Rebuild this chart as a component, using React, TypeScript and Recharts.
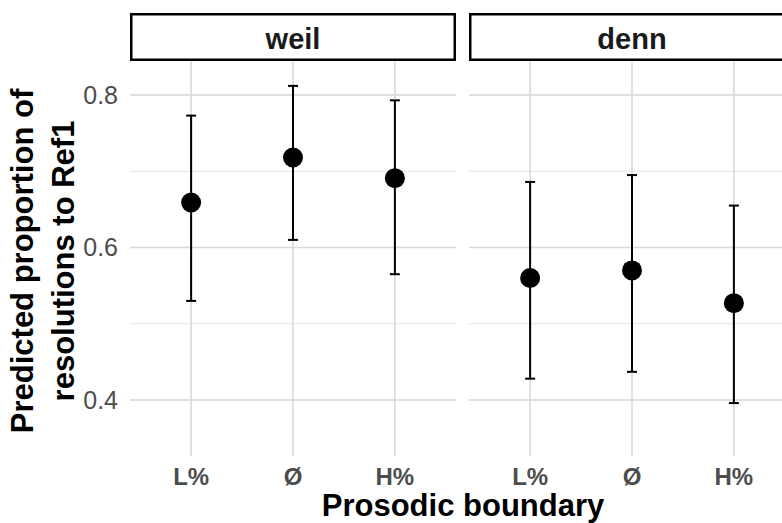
import React from 'react';
import { ScatterChart, Scatter, ErrorBar, XAxis, YAxis, CartesianGrid } from 'recharts';

const boundaries = ['L%', 'Ø', 'H%'];
const panels = ['weil', 'denn'];

const weilFit = [0.659, 0.718, 0.691];
const weilLower = [0.53, 0.61, 0.565];
const weilUpper = [0.773, 0.812, 0.793];

const dennFit = [0.56, 0.57, 0.527];
const dennLower = [0.428, 0.437, 0.396];
const dennUpper = [0.686, 0.695, 0.655];

const yTicks = [0.4, 0.5, 0.6, 0.7, 0.8];
const yMajor = [0.4, 0.6, 0.8];
const yDomain: [number, number] = [0.3266, 0.8446];
const xTicks = [1, 2, 3];

const FONT = '"Liberation Sans", Arial, Helvetica, sans-serif';

function buildRows(fit: number[], lower: number[], upper: number[]) {
  return fit.map((v, i) => ({
    x: i + 1,
    y: v,
    err: [v - lower[i], upper[i] - v],
  }));
}

const weilRows = buildRows(weilFit, weilLower, weilUpper);
const dennRows = buildRows(dennFit, dennLower, dennUpper);

// major horizontal grid lines, mapped through the y scale
const majorLines = ({ yAxis, offset }: any) => {
  const scale = yAxis && yAxis.scale;
  return yMajor.map((v) => {
    if (typeof scale === 'function') return scale(v);
    return offset.top + (offset.height * (yDomain[1] - v)) / (yDomain[1] - yDomain[0]);
  });
};

const dot = (p: any) => <circle cx={p.cx} cy={p.cy} r={10} fill="#000" />;

function Panel({ rows, showY, width }: { rows: any[]; showY: boolean; width: number }) {
  return (
    <ScatterChart width={width} height={523} margin={{ top: 61, right: 0, bottom: 0, left: 0 }}>
      <CartesianGrid vertical={false} syncWithTicks stroke="#E4E4E4" strokeWidth={1} />
      <CartesianGrid
        syncWithTicks
        horizontalCoordinatesGenerator={majorLines}
        stroke="#DADADA"
        strokeWidth={1.6}
      />
      <XAxis
        type="number"
        dataKey="x"
        domain={[0.4, 3.6]}
        ticks={xTicks}
        allowDataOverflow
        tickFormatter={(v: number) => boundaries[v - 1]}
        axisLine={false}
        tickLine={false}
        tickSize={0}
        tickMargin={12}
        height={67}
        tick={{ fill: '#4D4D4D', fontSize: 24, fontWeight: 'bold' }}
      />
      <YAxis
        type="number"
        dataKey="y"
        domain={yDomain}
        ticks={yTicks}
        allowDataOverflow
        hide={!showY}
        width={130}
        axisLine={false}
        tickLine={false}
        tickSize={0}
        tickMargin={12}
        tickFormatter={(v: number) => (yMajor.some((m) => Math.abs(m - v) < 1e-9) ? v.toFixed(1) : '')}
        tick={{ fill: '#4D4D4D', fontSize: 25 }}
      />
      <Scatter data={rows} shape={dot} isAnimationActive={false}>
        <ErrorBar dataKey="err" direction="y" width={5} stroke="#000" strokeWidth={2} isAnimationActive={false} />
      </Scatter>
    </ScatterChart>
  );
}

export default function App() {
  return (
    <div
      style={{
        position: 'absolute',
        left: 0,
        top: 0,
        width: 782,
        height: 523,
        overflow: 'hidden',
        background: '#fff',
        fontFamily: FONT,
      }}
    >
      <div style={{ position: 'absolute', left: 0, top: 0 }}>
        <Panel rows={weilRows} showY width={456} />
      </div>
      <div style={{ position: 'absolute', left: 469, top: 0 }}>
        <Panel rows={dennRows} showY={false} width={326} />
      </div>
      <svg
        width={782}
        height={523}
        style={{ position: 'absolute', left: 0, top: 0, pointerEvents: 'none', fontFamily: FONT }}
      >
        {panels.map((name, i) => {
          const left = i === 0 ? 130 : 469;
          return (
            <g key={name}>
              <rect x={left + 1.25} y={14.25} width={323.5} height={45.5} fill="#fff" stroke="#000" strokeWidth={2.5} />
              <text x={left + 163} y={49} textAnchor="middle" fontSize={29} fontWeight="bold" fill="#1A1A1A">
                {name}
              </text>
            </g>
          );
        })}
        <text x={463} y={516} textAnchor="middle" fontSize={31} fontWeight="bold" fill="#000">
          Prosodic boundary
        </text>
        <text
          x={33}
          y={261}
          transform="rotate(-90, 33, 261)"
          textAnchor="middle"
          fontSize={31}
          fontWeight="bold"
          fill="#000"
        >
          Predicted proportion of
        </text>
        <text
          x={74}
          y={261}
          transform="rotate(-90, 74, 261)"
          textAnchor="middle"
          fontSize={31}
          fontWeight="bold"
          fill="#000"
        >
          resolutions to Ref1
        </text>
      </svg>
    </div>
  );
}
